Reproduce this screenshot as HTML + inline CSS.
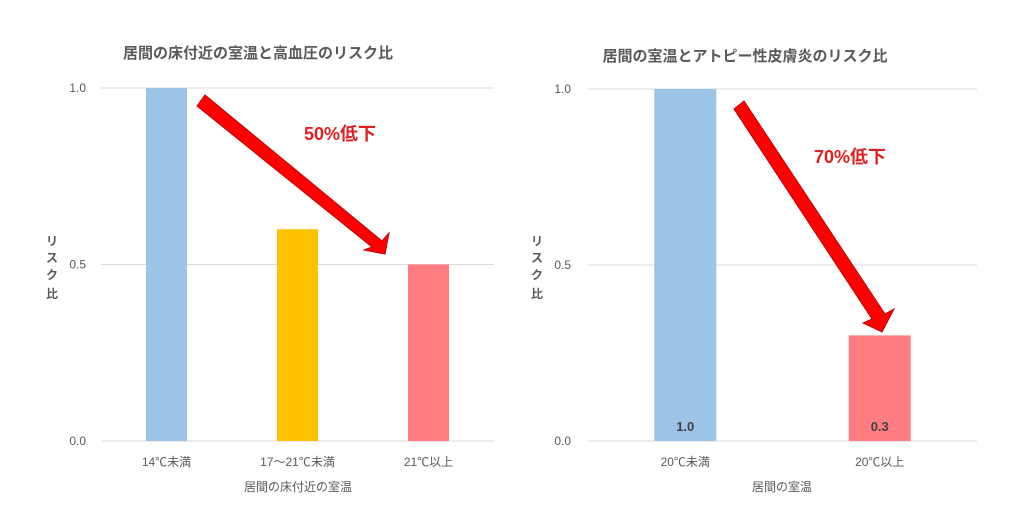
<!DOCTYPE html>
<html><head><meta charset="utf-8">
<style>
body{margin:0;background:#fff;width:1031px;height:513px;overflow:hidden}
svg text{font-family:"Liberation Sans","Noto Sans CJK JP",sans-serif}
</style></head>
<body>
<svg id="s" width="1031" height="513" xmlns="http://www.w3.org/2000/svg">
<defs><marker id="m" viewBox="0 0 10 10" refX="5" refY="5" markerWidth="1" markerHeight="1"></marker></defs>
<text x="258" y="58" text-anchor="middle" font-size="15" font-weight="bold" fill="#595959">居間の床付近の室温と高血圧のリスク比</text>
<text x="745" y="61" text-anchor="middle" font-size="15" font-weight="bold" fill="#595959">居間の室温とアトピー性皮膚炎のリスク比</text>
<g font-size="12" fill="#595959" font-weight="bold">
<text x="52" y="245" text-anchor="middle">リ</text><text x="52" y="262" text-anchor="middle">ス</text><text x="52" y="279" text-anchor="middle">ク</text><text x="52" y="298" text-anchor="middle">比</text></g>
<g font-size="12" fill="#595959" font-weight="bold">
<text x="537" y="245" text-anchor="middle">リ</text><text x="537" y="262" text-anchor="middle">ス</text><text x="537" y="279" text-anchor="middle">ク</text><text x="537" y="298" text-anchor="middle">比</text></g>
<text x="298" y="491" text-anchor="middle" font-size="12" fill="#595959">居間の床付近の室温</text>
<text x="782" y="491" text-anchor="middle" font-size="12" fill="#595959">居間の室温</text>
<g id="L"></g><g id="R"></g>
<polygon points="197,106 205,95 382,241 389,233 385,254 364,250 372,247" fill="#f00" stroke="#c00000" stroke-width="1"/>
<text x="340" y="140" text-anchor="middle" font-size="18" font-weight="bold" fill="#e02020">50%低下</text>
<polygon points="734,109 744,101 885,314 894,309 882,332 863,323 872,319" fill="#f00" stroke="#c00000" stroke-width="1"/>
<text x="850" y="163" text-anchor="middle" font-size="18" font-weight="bold" fill="#e02020">70%低下</text>
</svg>
<script>
const leftCategories=["14℃未満","17～21℃未満","21℃以上"];
const leftValues=[1.0,0.6,0.5];
const leftColors=["#9dc3e6","#ffc000","#ff7c80"];
const rightCategories=["20℃未満","20℃以上"];
const rightValues=[1.0,0.3];
const rightLabels=["1.0","0.3"];
const rightColors=["#9dc3e6","#ff7c80"];
const yTicks=[0,0.5,1.0];
const yTickLabels=["0.0","0.5","1.0"];
const NS="http://www.w3.org/2000/svg";
function mk(t,a,p){const e=document.createElementNS(NS,t);for(const k in a)e.setAttribute(k,a[k]);p.appendChild(e);return e;}
function chart(g,x0,x1,y0,y1,cats,vals,cols,bw,labels,tickX){
  const y=v=>y0-(y0-y1)*v;
  const step=(x1-x0)/cats.length;
  const x=i=>x0+step*(i+0.5);
  yTicks.forEach((t,i)=>{
    const l=mk('line',{x1:x0,x2:x1,y1:y(t),y2:y(t),stroke:'#d9d9d9','stroke-width':1},g);
    
    
    const tx=mk('text',{x:tickX,y:y(t)+4,'text-anchor':'end','font-size':12,fill:'#595959'},g);
    tx.textContent=yTickLabels[i];
    
    
  });
  cats.forEach((c,i)=>{
    const r=mk('rect',{x:x(i)-bw/2,y:y(vals[i]),width:bw,height:y0-y(vals[i]),fill:cols[i]},g);
    
    
    const t=mk('text',{x:x(i),y:y0+25,'text-anchor':'middle','font-size':12,fill:'#595959'},g);
    t.textContent=c;
    
    
    if(labels){
      const v=mk('text',{x:x(i),y:y0-10,'text-anchor':'middle','font-size':13,'font-weight':'bold',fill:'#404040'},g);
      v.textContent=labels[i];
      
      
    }
  });
}
chart(document.getElementById('L'),101,494,441,88,leftCategories,leftValues,leftColors,41,null,86);
chart(document.getElementById('R'),588,977,441,89,rightCategories,rightValues,rightColors,62,rightLabels,571);
</script>
</body></html>
